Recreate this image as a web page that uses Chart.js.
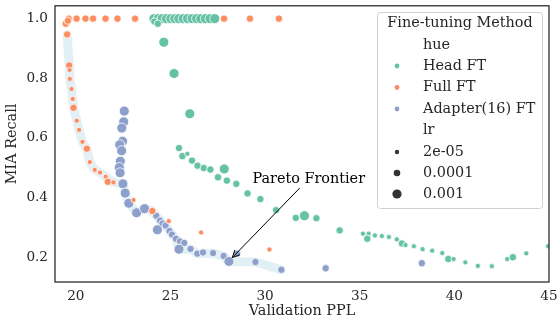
<!DOCTYPE html>
<html><head><meta charset="utf-8">
<script src="https://cdn.jsdelivr.net/npm/chart.js@4/dist/chart.umd.min.js"></script>
<style>html,body{margin:0;padding:0;background:#fff;}#wrap{width:557px;height:322px;position:relative;}</style>
</head><body><div id="wrap"><canvas id="c" width="557" height="322"></canvas></div>
<script>
// ---- data ----
const xTicks = [20, 25, 30, 35, 40, 45];
const yTicks = [0.2, 0.4, 0.6, 0.8, 1.0];
const lrLevels = ["2e-05", "0.0001", "0.001"];
const methods = ["Head FT", "Full FT", "Adapter(16) FT"];

const headX = [24.13,24.35,24.56,24.79,25.02,25.23,25.44,25.67,25.90,26.14,26.38,26.60,26.85,27.09,27.34,24.15,24.33,24.65,25.19,26.02,25.45,25.63,25.89,26.14,26.43,26.76,27.11,27.84,27.51,27.98,28.48,29.07,29.75,30.58,31.62,32.08,32.71,33.94,35.17,35.47,35.40,35.80,36.17,36.54,36.96,37.23,37.42,37.86,38.32,38.83,39.36,39.68,39.96,40.58,41.24,41.98,42.79,43.09,43.80,44.95];
const headY = [1.0,1.0,1.0,1.0,1.0,1.0,1.0,1.0,1.0,1.0,1.0,1.0,1.0,1.0,1.0,0.990,0.983,0.921,0.816,0.681,0.566,0.539,0.547,0.524,0.507,0.499,0.494,0.496,0.468,0.457,0.446,0.414,0.395,0.358,0.332,0.339,0.331,0.290,0.279,0.279,0.262,0.273,0.271,0.268,0.260,0.246,0.241,0.237,0.227,0.222,0.214,0.194,0.194,0.183,0.171,0.170,0.194,0.200,0.213,0.237];
const headLr = ["0.001","0.001","0.001","0.001","0.001","0.001","0.001","0.001","0.001","0.001","0.001","0.001","0.001","0.001","0.001","0.0001","0.0001","0.001","0.001","0.001","0.0001","0.0001","2e-05","0.0001","0.0001","0.0001","0.0001","0.001","0.0001","0.0001","0.0001","0.0001","0.0001","0.0001","0.0001","0.001","0.0001","0.0001","2e-05","2e-05","0.0001","2e-05","2e-05","2e-05","2e-05","0.0001","2e-05","2e-05","2e-05","2e-05","2e-05","0.0001","2e-05","2e-05","2e-05","2e-05","2e-05","0.0001","2e-05","2e-05"];

const fullX = [19.63,20.04,20.51,20.91,21.57,22.20,23.13,27.83,29.20,30.73,19.47,19.58,19.54,19.65,19.67,19.68,19.77,19.84,19.88,20.05,20.17,20.35,20.58,20.74,21.00,21.28,21.58,21.69,21.99,23.05,24.04,24.91,26.62,30.23];
const fullY = [1.0,1.0,1.0,1.0,1.0,1.0,1.0,1.0,1.0,1.0,0.983,0.993,0.947,0.843,0.828,0.798,0.764,0.731,0.701,0.658,0.627,0.587,0.564,0.519,0.493,0.484,0.470,0.453,0.451,0.392,0.355,0.321,0.283,0.226];
const fullLr = ["0.0001","0.0001","0.0001","0.0001","0.0001","0.0001","0.0001","0.0001","0.0001","0.0001","0.0001","0.0001","0.0001","0.0001","2e-05","2e-05","2e-05","2e-05","0.0001","2e-05","2e-05","2e-05","0.0001","2e-05","2e-05","2e-05","2e-05","0.0001","2e-05","2e-05","0.0001","2e-05","2e-05","2e-05"];

const adapterX = [22.56,22.53,22.43,22.47,22.32,22.42,22.35,22.30,22.34,22.49,22.61,22.80,23.21,23.63,24.25,24.45,24.58,24.74,24.31,24.95,25.08,25.29,25.51,25.73,25.45,26.06,26.42,26.72,27.25,27.81,28.09,28.52,29.49,30.86,33.20,38.28];
const adapterY = [0.690,0.654,0.633,0.589,0.577,0.557,0.522,0.501,0.483,0.446,0.415,0.381,0.349,0.363,0.339,0.323,0.313,0.306,0.292,0.288,0.276,0.262,0.253,0.248,0.227,0.228,0.212,0.216,0.214,0.204,0.186,0.212,0.184,0.158,0.163,0.180];
const adapterLr = ["0.001","0.001","0.001","0.001","0.001","0.001","0.001","0.001","0.001","0.001","0.001","0.001","0.001","0.001","0.0001","0.0001","0.0001","0.0001","0.001","0.0001","0.0001","0.0001","0.0001","0.0001","0.001","0.0001","0.0001","0.0001","0.0001","0.0001","0.001","0.0001","0.0001","0.0001","0.0001","0.0001"];

const paretoX = [19.54,19.65,19.68,19.77,19.88,20.05,20.17,20.35,20.58,20.74,21.00,21.28,21.58,21.99,22.49,22.61,22.80,23.21,23.63,24.04,24.25,24.45,24.58,24.74,24.95,25.08,25.29,25.45,26.06,26.42,27.25,27.81,28.09,29.49,30.86];
const paretoY = [0.947,0.843,0.798,0.764,0.701,0.658,0.627,0.587,0.564,0.519,0.493,0.484,0.470,0.451,0.446,0.415,0.381,0.349,0.363,0.355,0.339,0.323,0.313,0.306,0.288,0.276,0.262,0.227,0.228,0.212,0.214,0.204,0.186,0.184,0.158];

const annotationText = "Pareto Frontier";
const annotationTextAt = {x: 29.33, y: 0.448};
const annotationArrowFrom = {x: 31.83, y: 0.432};
const annotationArrowTo = {x: 28.27, y: 0.199};

// ---- styling ----
const FONT = "'DejaVu Serif', serif";
const TXT = "#262626";
const LABEL_SIZE = 14.4;
const TICK_SIZE = 13.6;
const colors = {"Head FT": "#66c2a5", "Full FT": "#fc8d62", "Adapter(16) FT": "#8da0cb"};
const radius = {"2e-05": 2.6, "0.0001": 3.7, "0.001": 5.0};

function pts(xs, ys) { return xs.map((x, i) => ({x: x, y: ys[i]})); }
function scatterSet(label, xs, ys, lrs, order) {
  return {
    label: label, data: pts(xs, ys), order: order,
    backgroundColor: colors[label], borderColor: "#ffffff", borderWidth: 0.8,
    pointRadius: ctx => radius[lrs[ctx.dataIndex]],
    pointHoverRadius: ctx => radius[lrs[ctx.dataIndex]],
    showLine: false
  };
}

const framePlugin = {
  id: "frame",
  afterDatasetsDraw(chart) {
    const {ctx, chartArea: a} = chart;
    ctx.save();
    ctx.strokeStyle = TXT; ctx.lineWidth = 1.25;
    ctx.strokeRect(a.left, a.top, a.right - a.left, a.bottom - a.top);
    ctx.restore();
  }
};

const annotationPlugin = {
  id: "annot",
  afterDatasetsDraw(chart) {
    const {ctx, scales: {x, y}} = chart;
    ctx.save();
    ctx.font = LABEL_SIZE + "px " + FONT;
    ctx.fillStyle = "#000";
    ctx.textBaseline = "alphabetic";
    ctx.textAlign = "left";
    ctx.fillText(annotationText, x.getPixelForValue(annotationTextAt.x), y.getPixelForValue(annotationTextAt.y));
    const x0 = x.getPixelForValue(annotationArrowFrom.x), y0 = y.getPixelForValue(annotationArrowFrom.y);
    const x1 = x.getPixelForValue(annotationArrowTo.x), y1 = y.getPixelForValue(annotationArrowTo.y);
    ctx.strokeStyle = "#000"; ctx.lineWidth = 1;
    ctx.beginPath(); ctx.moveTo(x0, y0); ctx.lineTo(x1, y1); ctx.stroke();
    const ang = Math.atan2(y1 - y0, x1 - x0), hl = 8, hw = 0.45;
    ctx.beginPath();
    ctx.moveTo(x1 - hl * Math.cos(ang - hw), y1 - hl * Math.sin(ang - hw));
    ctx.lineTo(x1, y1);
    ctx.lineTo(x1 - hl * Math.cos(ang + hw), y1 - hl * Math.sin(ang + hw));
    ctx.stroke();
    ctx.restore();
  }
};

const legendPlugin = {
  id: "legendBox",
  afterDraw(chart) {
    const ctx = chart.ctx;
    ctx.save();
    const bx = 377, by = 12, bw = 165, bh = 196;
    ctx.fillStyle = "rgba(255,255,255,0.8)";
    ctx.strokeStyle = "#d0d0d0"; ctx.lineWidth = 1;
    ctx.beginPath(); ctx.roundRect(bx + 0.5, by + 0.5, bw, bh, 3); ctx.fill(); ctx.stroke();
    ctx.font = LABEL_SIZE + "px " + FONT; ctx.fillStyle = TXT; ctx.textBaseline = "middle";
    ctx.textAlign = "center";
    ctx.fillText("Fine-tuning Method", bx + bw / 2 + 0.5, 23.5);
    ctx.textAlign = "left";
    const tx = 423, dx = 397;
    ctx.fillText("hue", tx, 45);
    const rows = [66, 87.5, 109];
    methods.forEach((m, i) => {
      ctx.fillStyle = colors[m];
      ctx.beginPath(); ctx.arc(dx, rows[i], 2.4, 0, Math.PI * 2); ctx.fill();
      ctx.fillStyle = TXT; ctx.fillText(m, tx, rows[i]);
    });
    ctx.fillText("lr", tx, 130.5);
    const rows2 = [152, 173, 194];
    lrLevels.forEach((l, i) => {
      ctx.fillStyle = "#333333";
      ctx.beginPath(); ctx.arc(dx, rows2[i], radius[l] - 0.4, 0, Math.PI * 2); ctx.fill();
      ctx.fillStyle = TXT; ctx.fillText(l, tx, rows2[i]);
    });
    ctx.restore();
  }
};

new Chart(document.getElementById("c"), {
  type: "scatter",
  data: {
    datasets: [
      {label: "Pareto", data: pts(paretoX, paretoY), showLine: true, pointRadius: 0, pointHoverRadius: 0,
       borderColor: "rgba(173,216,230,0.38)", borderWidth: 9, borderJoinStyle: "round", borderCapStyle: "round",
       fill: false, tension: 0, order: 4},
      scatterSet("Head FT", headX, headY, headLr, 3),
      scatterSet("Adapter(16) FT", adapterX, adapterY, adapterLr, 2),
      scatterSet("Full FT", fullX, fullY, fullLr, 1)
    ]
  },
  options: {
    responsive: false, animation: false, devicePixelRatio: 1,
    layout: {padding: {left: 0, right: 8, top: 4, bottom: 0}},
    plugins: {legend: {display: false}, tooltip: {enabled: false}},
    scales: {
      x: {
        type: "linear", min: 18.9, max: 45.0,
        grid: {display: false, drawTicks: false}, border: {display: false},
        afterBuildTicks: s => { s.ticks = xTicks.map(v => ({value: v})); },
        afterFit: s => { s.height = 40; s.paddingLeft = 0; s.paddingRight = 0; },
        ticks: {color: TXT, font: {family: FONT, size: TICK_SIZE}, padding: 6, maxRotation: 0, callback: v => String(v)},
        title: {display: true, text: "Validation PPL", color: TXT, font: {family: FONT, size: LABEL_SIZE}, padding: {top: 0, bottom: 2}}
      },
      y: {
        type: "linear", min: 0.117, max: 1.043,
        grid: {display: false, drawTicks: false}, border: {display: false},
        afterBuildTicks: s => { s.ticks = yTicks.map(v => ({value: v})); },
        afterFit: s => { s.width = 55; s.paddingTop = 0; s.paddingBottom = 0; },
        ticks: {color: TXT, font: {family: FONT, size: TICK_SIZE}, padding: 7, callback: v => Number(v).toFixed(1)},
        title: {display: true, text: "MIA Recall", color: TXT, font: {family: FONT, size: LABEL_SIZE}, padding: {top: 4, bottom: 0}}
      }
    }
  },
  plugins: [framePlugin, annotationPlugin, legendPlugin]
});
</script></body></html>
